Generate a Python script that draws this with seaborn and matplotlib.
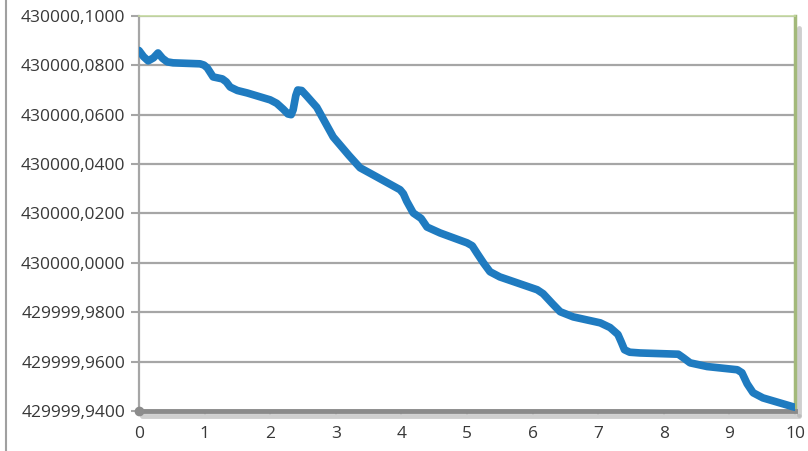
import numpy as np
import pandas as pd
import seaborn as sns
import matplotlib
matplotlib.use("Agg")
import matplotlib.pyplot as plt
from matplotlib.ticker import FuncFormatter
from matplotlib.lines import Line2D

# valores (offset sobre 430000)
x_vals = [0.0, 0.07, 0.14, 0.22, 0.29, 0.36, 0.43, 0.52, 0.93, 0.99, 1.04, 1.13,
          1.27, 1.33, 1.39, 1.5, 1.65, 2.0, 2.1, 2.2, 2.27, 2.32, 2.35, 2.39,
          2.42, 2.48, 2.56, 2.71, 2.96, 3.2, 3.37, 3.57, 3.98, 4.03, 4.08, 4.18,
          4.3, 4.39, 4.59, 5.0, 5.08, 5.15, 5.25, 5.35, 5.5, 6.07, 6.16, 6.3,
          6.42, 6.62, 7.03, 7.18, 7.3, 7.35, 7.4, 7.48, 7.64, 8.22, 8.3, 8.4,
          8.66, 9.12, 9.19, 9.27, 9.36, 9.51, 9.97, 10.0]
y_offset = [0.0860, 0.0835, 0.0818, 0.0830, 0.0850, 0.0828, 0.0814, 0.0810,
            0.0806, 0.0801, 0.0790, 0.0753, 0.0745, 0.0733, 0.0712, 0.0698,
            0.0688, 0.0660, 0.0646, 0.0622, 0.0603, 0.0600, 0.0620, 0.0677,
            0.0700, 0.0698, 0.0675, 0.0630, 0.0510, 0.0435, 0.0385, 0.0356,
            0.0296, 0.0280, 0.0250, 0.0202, 0.0180, 0.0145, 0.0121, 0.0081,
            0.0069, 0.0040, 0.0000, -0.0036, -0.0057, -0.0109, -0.0125,
            -0.0165, -0.0198, -0.0219, -0.0243, -0.0262, -0.0290, -0.0320,
            -0.0352, -0.0362, -0.0365, -0.0370, -0.0385, -0.0405, -0.0420,
            -0.0433, -0.0445, -0.0490, -0.0526, -0.0547, -0.0583, -0.0585]
base = 430000.0
y_ticks = [-0.06, -0.04, -0.02, 0.0, 0.02, 0.04, 0.06, 0.08, 0.10]
x_ticks = list(range(0, 11))

df = pd.DataFrame({'x': x_vals, 'y': [base + v for v in y_offset]})

sns.set_style('white')
plt.rcParams['font.family'] = ['Open Sans', 'DejaVu Sans']

fig = plt.figure(figsize=(8.08, 4.51), dpi=100)
ax = fig.add_axes([0.172, 0.0887, 0.812, 0.876])

# lineas de cuadricula
for t in y_ticks:
    ax.axhline(base + t, color='#a6a6a6', lw=1.6, zorder=1)

sns.lineplot(data=df, x='x', y='y', sort=False, ax=ax, color='#1f7bc0',
             linewidth=5.5, solid_joinstyle='round', solid_capstyle='round', zorder=3)

ax.set_xlim(0, 10)
ax.set_ylim(base + y_ticks[0], base + y_ticks[-1])
ax.set_xticks(x_ticks)
ax.set_yticks([base + t for t in y_ticks])
ax.yaxis.set_major_formatter(FuncFormatter(lambda v, p: f'{v:.4f}'.replace('.', ',')))
ax.set_xlabel('')
ax.set_ylabel('')

ax.tick_params(axis='y', length=6, width=1.5, color='#a6a6a6', labelsize=12.5,
               labelcolor='#383838', pad=4, left=True)
ax.tick_params(axis='x', length=3, width=1.2, color='#c8c8c8', labelsize=12.5,
               labelcolor='#383838', pad=8, bottom=True)

ax.spines['left'].set_color('#a6a6a6')
ax.spines['left'].set_linewidth(1.6)
ax.spines['bottom'].set_color('#8a8a8a')
ax.spines['bottom'].set_linewidth(3.5)
ax.spines['right'].set_color('#a3b97a')
ax.spines['right'].set_linewidth(2.5)
ax.spines['top'].set_color('#c5d9a0')
ax.spines['top'].set_linewidth(1.2)

# sombra en el borde derecho e inferior
ax.plot([1.006, 1.006], [-0.01, 0.97], transform=ax.transAxes, color='#b0b0b0',
        lw=3.5, alpha=0.6, clip_on=False, zorder=0)
ax.plot([0.005, 1.006], [-0.013, -0.013], transform=ax.transAxes, color='#b0b0b0',
        lw=3.5, alpha=0.6, clip_on=False, zorder=0)
# punto en el origen
ax.plot([0], [0], 'o', transform=ax.transAxes, color='#8c8c8c', ms=6, clip_on=False, zorder=4)

# borde izquierdo de la imagen
fig.add_artist(Line2D([0.008, 0.008], [0, 1], transform=fig.transFigure, color='#a0a0a0', lw=1.5))

fig.savefig('out.png', dpi=100)
